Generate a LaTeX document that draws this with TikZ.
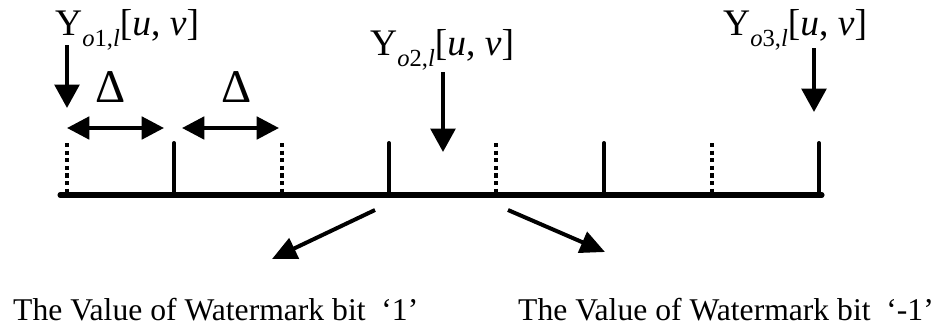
\documentclass[tikz,border=0pt]{standalone}
\usepackage{fontspec}
\setmainfont{Liberation Serif}
\usetikzlibrary{positioning, arrows.meta}

\newcommand{\ylab}[1]{Y\raisebox{-0.3em}{\fontsize{21}{21}\selectfont\textit{o}#1,\textit{l}}[\textit{u}, \textit{v}]}

\begin{document}
\begin{tikzpicture}[
    x=0.03cm, y=-0.03cm,
    axis/.style={line width=4.3pt, line cap=round},
    solidtick/.style={line width=3.4pt, line cap=round},
    dottick/.style={line width=3.4pt, dash pattern=on 3.5pt off 3pt},
    pointer/.style={line width=3.4pt, -{Triangle[length=20pt, width=21pt]}},
    span/.style={line width=3.4pt, {Triangle[length=19pt, width=19pt]}-{Triangle[length=19pt, width=19pt]}},
    result/.style={line width=3.4pt, -{Triangle[length=21pt, width=19pt]}},
    ylabel/.style={inner sep=0pt, anchor=base west, font=\fontsize{32}{36}\selectfont},
    bitlabel/.style={inner sep=0pt, anchor=base west, font=\fontsize{27}{32}\selectfont},
    delta/.style={inner sep=0pt, anchor=base, font=\fontsize{40}{44}\selectfont}
]
\useasboundingbox (0,0) rectangle (946,329);

% 1. Axis with quantisation ticks
\coordinate (axL) at (60,195);
\coordinate (axR) at (822,195);
\draw[axis] (axL) -- (axR);

\foreach \x/\name in {174/s1, 389/s2, 604/s3, 819/s4} {
    \coordinate (\name) at (\x,143);
    \draw[solidtick] (\name) -- (\x,195);
}
\foreach \x/\name in {67/d1, 282/d2, 496/d3, 712/d4} {
    \coordinate (\name) at (\x,143);
    \draw[dottick] (\name) -- (\x,195);
}

% 2. Coefficient labels and their pointers
\node[ylabel] (y1) at (55,35) {\ylab{1}};
\node[ylabel] (y2) at (370,55) {\ylab{2}};
\node[ylabel] (y3) at (723,35) {\ylab{3}};

\coordinate (p1s) at (67,45);   \coordinate (p1e) at (67,108);
\coordinate (p2s) at (443,72);  \coordinate (p2e) at (443,152);
\coordinate (p3s) at (814,48);  \coordinate (p3e) at (814,112);
\draw[pointer] (p1s) -- (p1e);
\draw[pointer] (p2s) -- (p2e);
\draw[pointer] (p3s) -- (p3e);

% 3. Step size
\coordinate (a1) at (67,128);  \coordinate (b1) at (164,128);
\coordinate (a2) at (182,128); \coordinate (b2) at (279,128);
\draw[span] (a1) -- (b1);
\draw[span] (a2) -- (b2);
\node[delta] (del1) at (111,102) {Δ};
\node[delta] (del2) at (237,102) {Δ};

% 4. Watermark bit values
\coordinate (r1) at (375,210);
\coordinate (r2) at (508,210);
\coordinate (t1) at (272,259);
\coordinate (t2) at (605,252);
\draw[result] (r1) -- (t1);
\draw[result] (r2) -- (t2);

\node[bitlabel] (bit1) at (13,320) {The Value of Watermark bit\ \ `1'};
\node[bitlabel] (bit2) at (518,320) {The Value of Watermark bit\ \ `-1'};

\end{tikzpicture}
\end{document}
